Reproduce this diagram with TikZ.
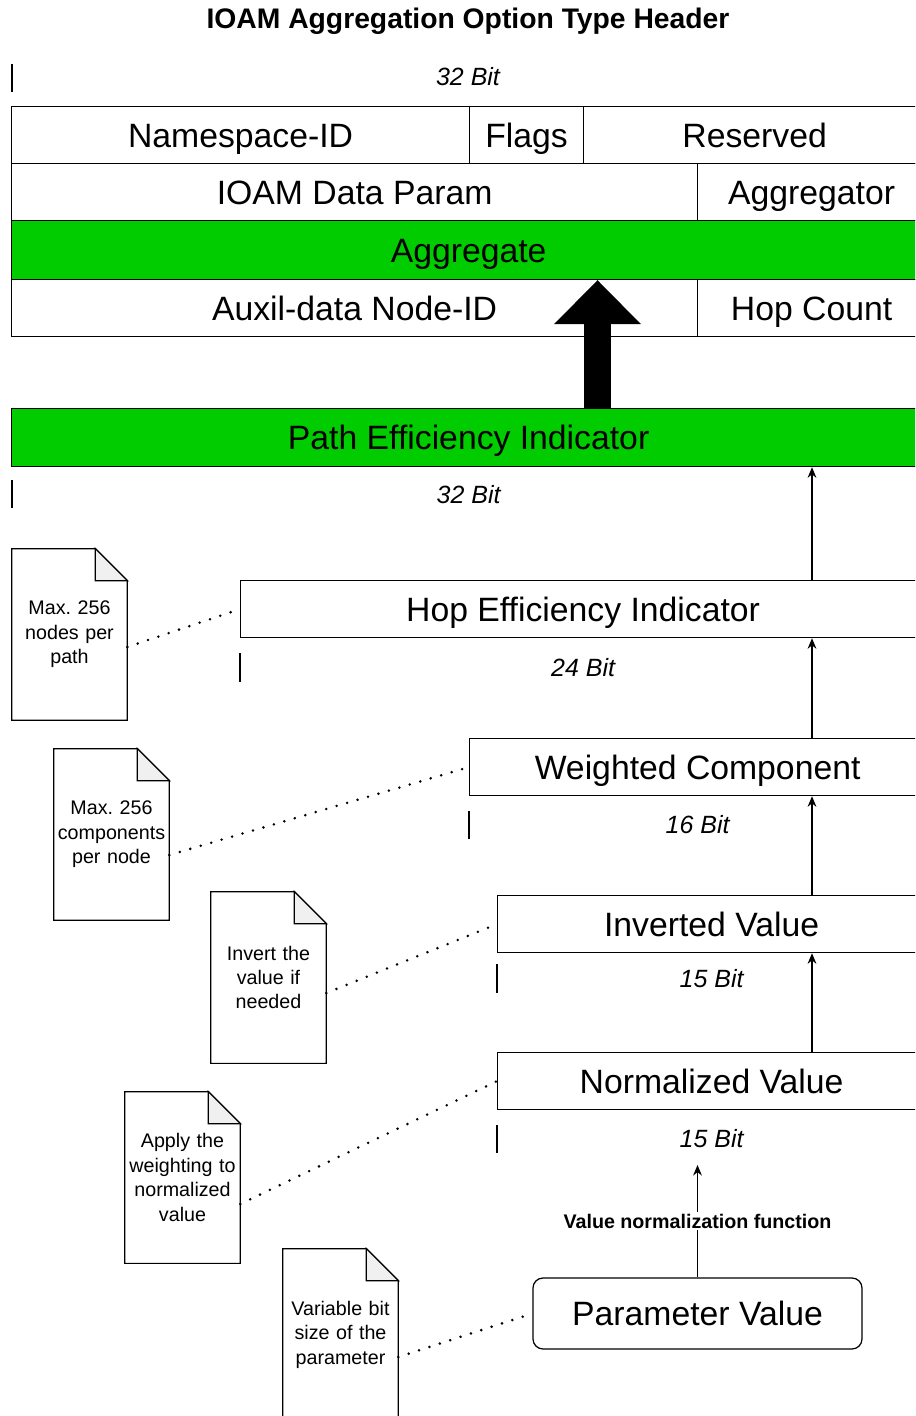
\documentclass[tikz,border=0pt]{standalone}
\usepackage{fontspec}
\setmainfont{Liberation Sans}
\usetikzlibrary{positioning,arrows.meta}
\frenchspacing
\definecolor{aggreen}{RGB}{0,204,0}
\definecolor{foldgray}{RGB}{240,240,240}
% outline of a note with a folded corner
\newcommand{\notefold}[1]{%
  \draw[line width=0.7pt] (#1.south west) -- (#1.north west) -- ([xshift=-0.64cm]#1.north east)
    -- ([yshift=-0.64cm]#1.north east) -- (#1.south east) -- cycle;
  \draw[line width=0.7pt,fill=foldgray] ([xshift=-0.64cm]#1.north east)
    -- ([xshift=-0.64cm,yshift=-0.64cm]#1.north east) -- ([yshift=-0.64cm]#1.north east) -- cycle;}

\begin{document}
\begin{tikzpicture}[>={Stealth[length=6pt,width=5pt]},
  every node/.style={font=\fontsize{19.2}{23}\selectfont},
  cell/.style={draw,line width=0.7pt,minimum height=1.14cm,inner sep=0pt,anchor=north west,
    text height=13.7pt,text depth=0pt},
  bits/.style={font=\fontsize{14.2}{17}\selectfont\itshape},
  bitline/.style={line width=0.7pt},
  notebox/.style={minimum width=2.3cm,minimum height=3.42cm,text width=2.25cm,align=center,
    inner sep=0pt,font=\fontsize{11.2}{13.9}\selectfont},
  dotlink/.style={line width=1.6pt,line cap=round,dash pattern=on 0pt off 6.2pt},
  flow/.style={->,line width=0.7pt}]
  \useasboundingbox (0,0) rectangle (18.3,-28.32);
  \clip (0,0) rectangle (18.3,-28.32);
  % header
  \node[font=\fontsize{16.1}{19}\selectfont\bfseries] (title) at (9.36,-0.42) {IOAM Aggregation Option Type Header};
  \draw[bitline] (0.24,-1.28) -- (0.24,-1.84);
  \node[bits] (b32a) at (9.36,-1.54) {32 Bit};
  \node[cell,minimum width=9.16cm] (ns) at (0.22,-2.12) {Namespace-ID};
  \node[cell,minimum width=2.28cm] (flags) at (9.38,-2.12) {Flags};
  \node[cell,minimum width=6.84cm] (res) at (11.66,-2.12) {Reserved};
  \node[cell,minimum width=13.72cm] (dparam) at (0.22,-3.26) {IOAM Data Param};
  \node[cell,minimum width=4.56cm] (aggr) at (13.94,-3.26) {Aggregator};
  \node[cell,fill=aggreen,minimum width=18.28cm,minimum height=1.18cm] (agg) at (0.22,-4.40) {Aggregate};
  \node[cell,minimum width=13.72cm] (aux) at (0.22,-5.58) {Auxil-data Node-ID};
  \node[cell,minimum width=4.56cm] (hops) at (13.94,-5.58) {Hop Count};
  % indicator chain
  \node[cell,fill=aggreen,minimum width=18.28cm,minimum height=1.16cm] (pei) at (0.22,-8.16) {Path Efficiency Indicator};
  \draw[bitline] (0.24,-9.6) -- (0.24,-10.16);
  \node[bits] (b32b) at ([yshift=-0.54cm]pei.south) {32 Bit};
  \node[cell,minimum width=13.7cm] (hei) at (4.8,-11.6) {Hop Efficiency Indicator};
  \draw[bitline] ([yshift=-0.3cm]hei.south west) -- ++(0,-0.58);
  \node[bits] (b24) at ([yshift=-0.58cm]hei.south) {24 Bit};
  \node[cell,minimum width=9.12cm] (wc) at (9.38,-14.76) {Weighted Component};
  \draw[bitline] ([yshift=-0.3cm]wc.south west) -- ++(0,-0.56);
  \node[bits] (b16) at ([yshift=-0.56cm]wc.south) {16 Bit};
  \node[cell,minimum width=8.56cm] (inv) at (9.94,-17.9) {Inverted Value};
  \draw[bitline] ([yshift=-0.22cm]inv.south west) -- ++(0,-0.58);
  \node[bits] (b15a) at ([yshift=-0.5cm]inv.south) {15 Bit};
  \node[cell,minimum width=8.56cm] (nv) at (9.94,-21.04) {Normalized Value};
  \draw[bitline] ([yshift=-0.3cm]nv.south west) -- ++(0,-0.56);
  \node[bits] (b15b) at ([yshift=-0.56cm]nv.south) {15 Bit};
  \node[draw,line width=0.7pt,rounded corners=0.2cm,minimum width=6.58cm,minimum height=1.42cm,
    text height=13.7pt,text depth=0pt] (pv) at (13.95,-26.27) {Parameter Value};
  % arrows
  \coordinate (fat) at (11.95,0);
  \draw[line width=0.54cm,-{Triangle[width=1.74cm,length=0.88cm,line width=0pt]}] (pei.north -| fat) -- (agg.south -| fat);
  \coordinate (up) at (16.24,0);
  \draw[flow] (hei.north -| up) -- (pei.south -| up);
  \draw[flow] (wc.north -| up) -- (hei.south -| up);
  \draw[flow] (inv.north -| up) -- (wc.south -| up);
  \draw[flow] (nv.north -| up) -- (inv.south -| up);
  \coordinate (fnend) at (13.95,-23.3);
  \draw[flow] (pv.north) -- node[fill=white,inner sep=1pt,font=\fontsize{11.2}{13}\selectfont\bfseries] (fn) {Value normalization function} (fnend);
  % notes
  \node[notebox] (n1) at (1.39,-12.69) {Max. 256\\nodes per\\path};
  \notefold{n1}
  \node[notebox] (n2) at (2.23,-16.69) {Max. 256\\components\\per node};
  \notefold{n2}
  \node[notebox] (n3) at (5.37,-19.55) {Invert the\\value if\\needed};
  \notefold{n3}
  \node[notebox] (n4) at (3.65,-23.55) {Apply the\\weighting to\\normalized\\value};
  \notefold{n4}
  \node[notebox] (n5) at (6.81,-26.69) {Variable bit\\size of the\\parameter};
  \notefold{n5}
  \draw[dotlink] ([yshift=-0.25cm]n1.east) -- (hei.west);
  \draw[dotlink] ([yshift=-0.41cm]n2.east) -- (wc.west);
  \draw[dotlink] ([yshift=-0.31cm]n3.east) -- (inv.west);
  \draw[dotlink] ([yshift=-0.53cm]n4.east) -- (nv.west);
  \draw[dotlink] ([yshift=-0.45cm]n5.east) -- (pv.west);
\end{tikzpicture}
\end{document}
